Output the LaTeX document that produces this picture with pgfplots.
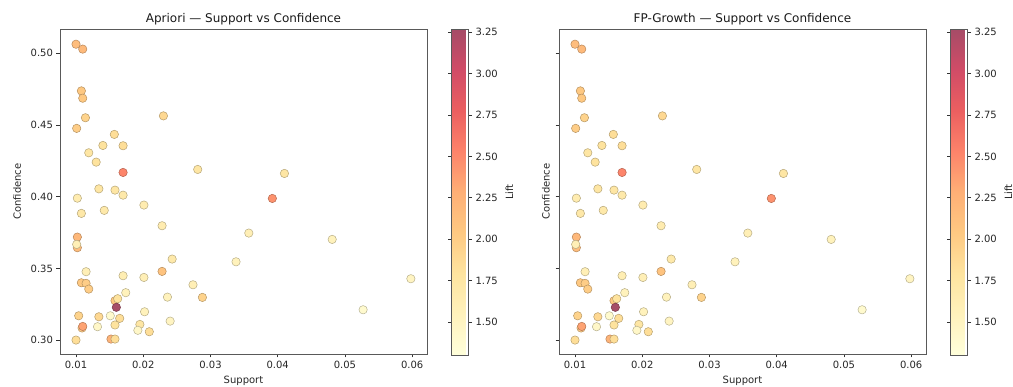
\documentclass[border=0pt]{standalone}
\usepackage{pgfplots}
\pgfplotsset{compat=1.18}
\usepackage{pgfplotstable}
\usepackage{fontspec}
\setmainfont{DejaVu Sans}

\pgfplotstableread{
s c l
0.0100 0.5062 2.15
0.0110 0.5028 2.18
0.0108 0.4737 2.05
0.0110 0.4686 2.05
0.0114 0.4550 1.95
0.0101 0.4476 2.00
0.0230 0.4563 1.90
0.0157 0.4434 1.85
0.0140 0.4357 1.80
0.0170 0.4355 1.85
0.0119 0.4306 1.75
0.0130 0.4241 1.80
0.0170 0.4169 2.52
0.0281 0.4190 1.75
0.0134 0.4055 1.75
0.0158 0.4046 1.75
0.0170 0.4011 1.70
0.0102 0.3990 1.65
0.0201 0.3942 1.65
0.0108 0.3884 1.72
0.0142 0.3905 1.70
0.0228 0.3798 1.65
0.0357 0.3747 1.60
0.0392 0.3988 2.45
0.0481 0.3703 1.55
0.0338 0.3547 1.55
0.0598 0.3429 1.50
0.0527 0.3213 1.40
0.0410 0.4162 1.75
0.0102 0.3719 2.20
0.0102 0.3645 2.15
0.0101 0.3668 1.60
0.0115 0.3478 1.60
0.0108 0.3401 2.05
0.0115 0.3397 2.00
0.0119 0.3357 2.00
0.0170 0.3450 1.62
0.0201 0.3438 1.60
0.0228 0.3480 2.10
0.0243 0.3566 1.70
0.0274 0.3387 1.60
0.0288 0.3299 1.95
0.0236 0.3301 1.55
0.0174 0.3332 1.55
0.0158 0.3276 2.05
0.0162 0.3290 1.80
0.0160 0.3230 3.27
0.0104 0.3171 1.95
0.0134 0.3164 1.90
0.0151 0.3171 1.40
0.0165 0.3153 1.85
0.0109 0.3086 2.00
0.0110 0.3097 2.35
0.0132 0.3095 1.45
0.0158 0.3107 1.80
0.0202 0.3199 1.55
0.0195 0.3111 1.75
0.0192 0.3070 1.45
0.0209 0.3060 1.85
0.0240 0.3134 1.50
0.0100 0.3002 1.85
0.0152 0.3009 2.25
0.0158 0.3009 1.85
}\rules

\pgfplotsset{
  colormap={ylorrd}{rgb255=(255,255,219) rgb255=(255,242,188) rgb255=(254,228,159) rgb255=(254,201,130) rgb255=(254,175,118) rgb255=(253,131,106) rgb255=(235,95,96) rgb255=(209,76,103) rgb255=(166,76,103)},
  myaxis/.style={
    width=367pt, height=325pt, scale only axis,
    xmin=0.00762, xmax=0.0622, ymin=0.2905, ymax=0.5168,
    xtick={0.01,0.02,0.03,0.04,0.05,0.06},
    ytick={0.30,0.35,0.40,0.45,0.50},
    scaled ticks=false,
    xticklabel style={/pgf/number format/.cd, fixed, fixed zerofill, precision=2},
    yticklabel style={/pgf/number format/.cd, fixed, fixed zerofill, precision=2},
    /pgf/number format/assume math mode=true,
    tick align=outside, tick pos=left,
    major tick length=3.5pt,
    axis line style={black!65},
    tick style={black!80, line width=0.6pt},
    tick label style={font=\fontsize{10}{12}\selectfont, text=black!85},
    label style={font=\fontsize{10}{12}\selectfont, text=black!85},
    title style={font=\fontsize{12}{14}\selectfont, text=black!90, yshift=-6pt},
    xlabel={Support}, ylabel={Confidence},
    xlabel style={at={(axis description cs:0.5,-0.083)}, anchor=center},
    colormap name=ylorrd,
    point meta min=1.30, point meta max=3.27,
    colorbar,
    colorbar style={
      at={(parent axis.north east)}, anchor=north west, xshift=16pt,
      width=17pt, height=326pt, scale only axis,
      ytick={1.50,1.75,2.00,2.25,2.50,2.75,3.00,3.25},
      yticklabel style={/pgf/number format/.cd, fixed, fixed zerofill, precision=2},
      /pgf/number format/assume math mode=true,
      scaled y ticks=false,
      tick label style={font=\fontsize{10}{12}\selectfont, text=black!85},
      ylabel={Lift},
      every axis y label/.style={at={(axis description cs:3.4,0.5)}, rotate=90, anchor=center,
        font=\fontsize{10}{12}\selectfont, text=black!85},
      axis line style={black!65},
      tick style={black!80, line width=0.6pt},
      tick align=outside,
      major tick length=3.5pt,
    },
  },
  myscatter/.style={scatter, only marks, mark=*, mark size=4.2pt,
    scatter/use mapped color={draw=mapped color!72!black, fill=mapped color, line width=0.5pt},
    point meta=explicit},
}

\begin{document}
\begin{tikzpicture}
\path[use as bounding box] (0,0) rectangle (1013pt,387pt);
\begin{axis}[myaxis, at={(60pt,33pt)}, anchor=south west,
  ylabel style={at={(axis description cs:-0.117,0.5)}, anchor=center},
  title={Apriori — Support vs Confidence}]
\addplot[myscatter] table[x=s, y=c, meta=l] {\rules};
\end{axis}
\begin{axis}[myaxis, at={(559pt,33pt)}, anchor=south west,
  yticklabels={},
  ylabel style={at={(axis description cs:-0.0354,0.5)}, anchor=center},
  title={FP-Growth — Support vs Confidence}]
\addplot[myscatter] table[x=s, y=c, meta=l] {\rules};
\end{axis}
\end{tikzpicture}
\end{document}
